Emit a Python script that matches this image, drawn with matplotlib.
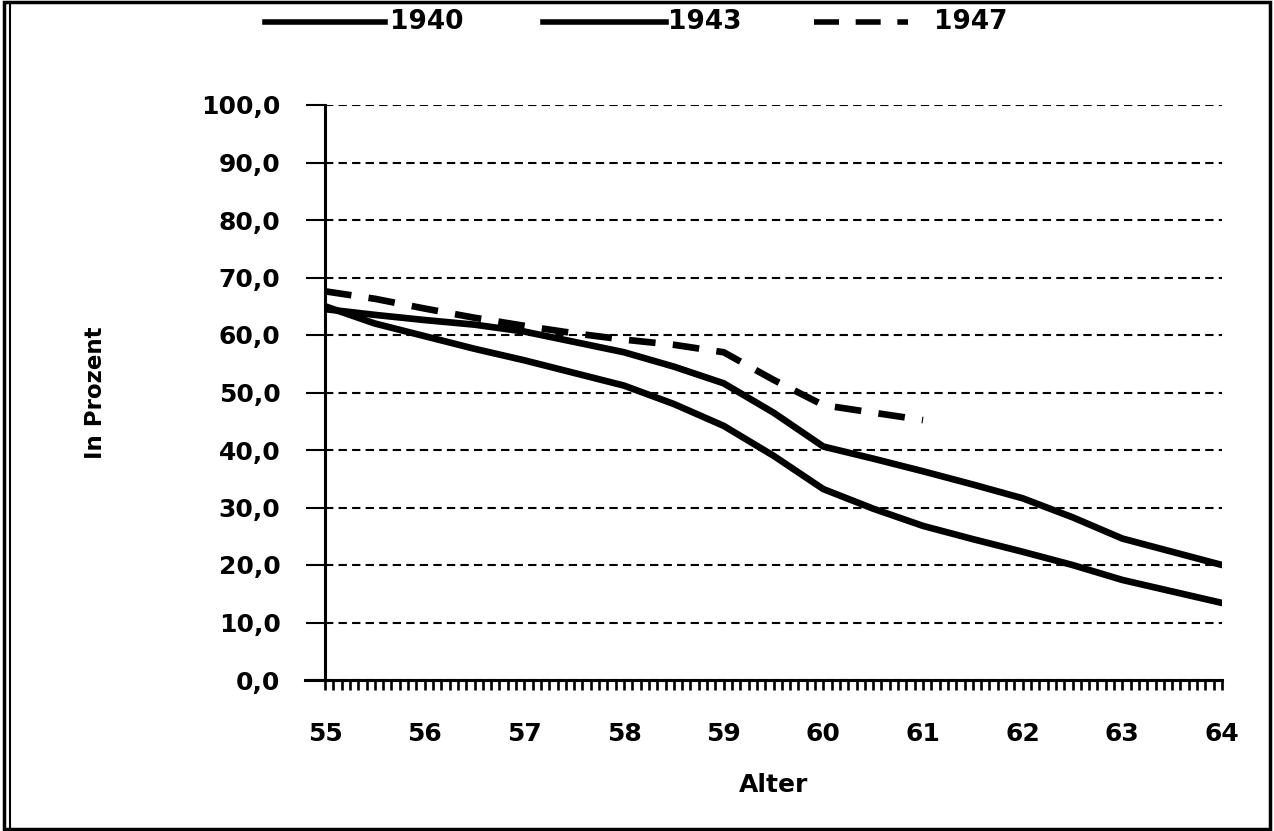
import numpy as np
import matplotlib
matplotlib.use('Agg')
import matplotlib.pyplot as plt
from matplotlib.ticker import MultipleLocator, FuncFormatter
from matplotlib.patches import Rectangle
from matplotlib.lines import Line2D

alter_1940 = [55, 55.5, 56, 56.5, 57, 57.5, 58, 58.5, 59, 59.5, 60, 60.5, 61, 61.5, 62, 62.5, 63, 63.5, 64]
wert_1940 = [65.0, 62.0, 59.8, 57.6, 55.6, 53.4, 51.2, 48.0, 44.2, 39.0, 33.2, 29.8, 26.8, 24.5, 22.3, 20.0, 17.4, 15.4, 13.4]

alter_1943 = [55, 55.5, 56, 56.5, 57, 57.5, 58, 58.5, 59, 59.5, 60, 60.5, 61, 61.5, 62, 62.5, 63, 63.5, 64]
wert_1943 = [64.5, 63.5, 62.6, 61.8, 60.6, 58.8, 57.0, 54.5, 51.6, 46.5, 40.6, 38.5, 36.3, 34.0, 31.6, 28.3, 24.6, 22.3, 20.0]

alter_1947 = [55, 55.5, 56, 56.5, 57, 57.5, 58, 58.5, 59, 59.5, 60, 60.5, 61]
wert_1947 = [67.6, 66.3, 64.6, 63.0, 61.6, 60.3, 59.2, 58.3, 57.0, 52.2, 47.8, 46.5, 45.2]

jahre = ['1940', '1943', '1947']
monate = np.arange(55 * 12, 64 * 12 + 1) / 12  # Monatsstriche

W, H = 1274, 831
fig = plt.figure(figsize=(W / 100, H / 100), dpi=100)
ax = fig.add_axes([325/W, 1 - 680/H, (1222-325)/W, (680-105)/H])

ax.plot(alter_1940, wert_1940, color='black', lw=4.8, solid_capstyle='round', solid_joinstyle='round')
ax.plot(alter_1943, wert_1943, color='black', lw=4.8, solid_capstyle='round', solid_joinstyle='round')
ax.plot(alter_1947, wert_1947, color='black', lw=4.8, dashes=(4, 2.6))

ax.set_xlim(55, 64)
ax.set_ylim(0, 100)
ax.set_xticks(range(55, 65))
ax.set_xticks(monate, minor=True)
ax.xaxis.remove_overlapping_locs = False
ax.yaxis.set_major_locator(MultipleLocator(10))
ax.yaxis.set_major_formatter(FuncFormatter(lambda v, p: f'{v:.1f}'.replace('.', ',')))

ax.grid(axis='y', color='black', ls=(0, (4, 2.5)), lw=1.5)
for s in ['top', 'right']:
    ax.spines[s].set_visible(False)
ax.spines['left'].set_linewidth(2.2)
ax.spines['bottom'].set_linewidth(2.2)
ax.spines['bottom'].set_bounds(54.8, 64)

ax.tick_params(axis='y', which='major', direction='out', length=14, width=1.5, pad=18)
ax.tick_params(axis='x', which='major', direction='out', length=0, pad=30)
ax.tick_params(axis='x', which='minor', direction='out', length=7, width=1.9)

for lab in ax.get_xticklabels() + ax.get_yticklabels():
    lab.set_fontsize(18)
    lab.set_fontweight('heavy')
    lab.set_family('DejaVu Sans')

ax.set_xlabel('Alter', fontsize=18, fontweight='heavy', labelpad=20)
ax.set_ylabel('In Prozent', fontsize=16.5, fontweight='bold', labelpad=68,
              family=['Liberation Sans Narrow', 'DejaVu Sans'])

# Legende oben
ly = 1 - 22 / H
leg_x = [(265, 385, 390), (543, 666, 668), (814, 908, 934)]
for (x0, x1, xt), jahr in zip(leg_x, jahre):
    kw = dict(color='black', lw=4, transform=fig.transFigure)
    if jahr == '1947':
        kw['dashes'] = (4.5, 3)
    fig.add_artist(Line2D([x0 / W, x1 / W], [ly, ly], **kw))
    fig.text(xt / W, ly, jahr, fontsize=19, fontweight='heavy', va='center', ha='left')

fig.patches.append(Rectangle((0.003, 0.003), 0.994, 0.994, transform=fig.transFigure,
                             fill=False, edgecolor='black', lw=2.5))
fig.patches.append(Rectangle((0.0075, 0.003), 0.0, 0.994, transform=fig.transFigure,
                             fill=False, edgecolor='black', lw=1.5))

fig.savefig('out.png', dpi=100)
